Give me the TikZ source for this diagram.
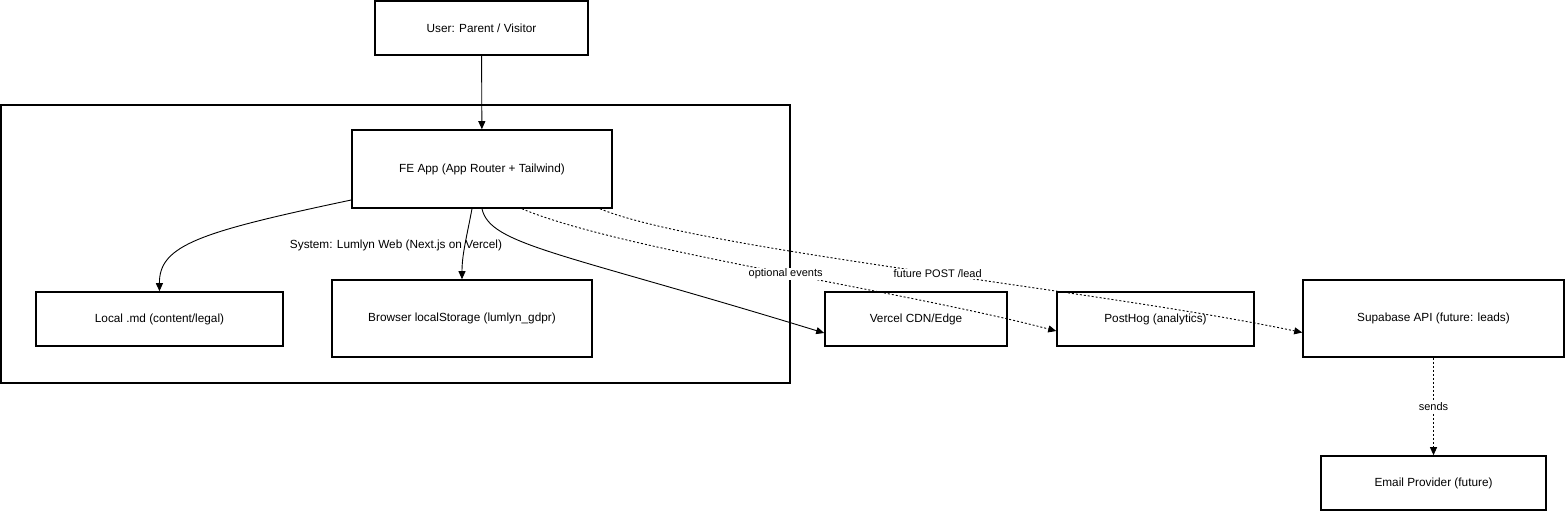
\documentclass[tikz,border=0pt]{standalone}
\usepackage{fontspec}
\setmainfont{Liberation Sans}
\usetikzlibrary{arrows.meta}
\begin{document}
\begin{tikzpicture}[x=1pt,y=-1pt,
  box/.style={draw,line width=1.6pt,inner sep=0pt,font=\fontsize{11.8}{14}\selectfont},
  flow/.style={line width=0.9pt,-{Triangle[length=8pt,width=7pt]}},
  maybe/.style={flow,dash pattern=on 2pt off 2pt},
  lbl/.style={fill=white,inner sep=1pt,font=\fontsize{11}{13}\selectfont}]
  \useasboundingbox (0,0) rectangle (1565,512);

  % system frame
  \draw[line width=1.6pt] (1,105) rectangle (790,383);
  \node[font=\fontsize{11.8}{14}\selectfont] (syslbl) at (396,245) {System: Lumlyn Web (Next.js on Vercel)};

  \node[box,minimum width=213pt,minimum height=54pt] (user) at (481.5,28) {User: Parent / Visitor};
  \node[box,minimum width=260pt,minimum height=78pt] (fe) at (482,169) {FE App (App Router + Tailwind)};
  \node[box,minimum width=247pt,minimum height=54pt] (md) at (159.5,319) {Local .md (content/legal)};
  \node[box,minimum width=260pt,minimum height=77pt] (store) at (462,318.5) {Browser localStorage (lumlyn\_gdpr)};
  \node[box,minimum width=182pt,minimum height=54pt] (cdn) at (916,319) {Vercel CDN/Edge};
  \node[box,minimum width=197pt,minimum height=54pt] (hog) at (1155.5,319) {PostHog (analytics)};
  \node[box,minimum width=261pt,minimum height=77pt] (supa) at (1433.5,318.5) {Supabase API (future: leads)};
  \node[box,minimum width=225pt,minimum height=54pt] (mail) at (1433.5,483) {Email Provider (future)};

  \draw[flow] (user) -- (fe);
  \draw[flow] ([yshift=-31pt]fe.west) .. controls (200,232) and (159,245) .. (md.north);
  \draw[flow] ([xshift=-10pt]fe.south) .. controls (466,240) and (462,255) .. (store.north);
  \draw[flow] (fe.south) .. controls (490,245) and (560,252) .. ([yshift=-14pt]cdn.west);

  \draw[maybe] ([xshift=40pt]fe.south) .. controls (620,250) and (900,290) .. ([yshift=-12pt]hog.west)
    node[lbl,pos=0.53] {optional events};
  \draw[maybe] ([xshift=118pt]fe.south) .. controls (700,250) and (1100,290) .. ([yshift=-14pt]supa.west)
    node[lbl,pos=0.53] {future POST /lead};
  \draw[maybe] (supa) -- (mail) node[lbl,midway] {sends};
\end{tikzpicture}
\end{document}
